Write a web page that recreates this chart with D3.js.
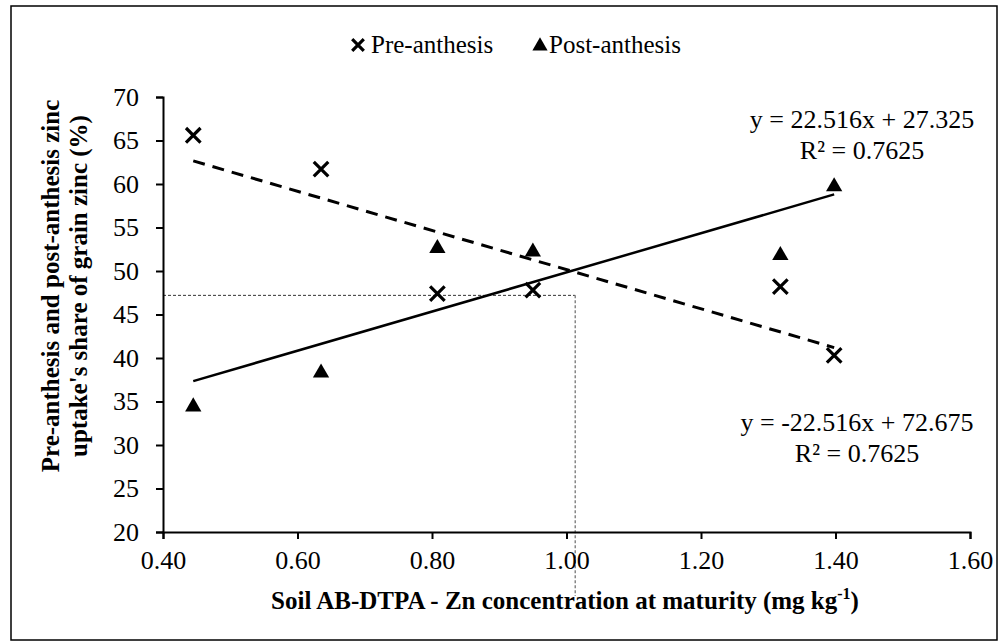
<!DOCTYPE html>
<html><head><meta charset="utf-8">
<script src="https://cdn.jsdelivr.net/npm/d3@7"></script>
<style>body{margin:0;background:#fff}svg{display:block}</style>
</head><body>
<script>
const soilZn = [0.445, 0.635, 0.808, 0.95, 1.318, 1.398];
const preAnthesis = [65.6, 61.7, 47.4, 47.8, 48.2, 40.3];
const postAnthesis = [34.4, 38.3, 52.6, 52.2, 51.8, 59.7];
const preFit = {slope: -22.516, intercept: 72.675, r2: 0.7625};
const postFit = {slope: 22.516, intercept: 27.325, r2: 0.7625};
const xTicks = [0.4, 0.6, 0.8, 1.0, 1.2, 1.4, 1.6];
const yTicks = [20, 25, 30, 35, 40, 45, 50, 55, 60, 65, 70];
const refPoint = {x: 1.013, y: 47.2};

const W = 1008, H = 643;
const svg = d3.select("body").append("svg").attr("width", W).attr("height", H)
  .style("font-family", "'Liberation Serif','Times New Roman',serif");
svg.append("rect").attr("width", W).attr("height", H).attr("fill", "#fff");
svg.append("rect").attr("x", 11).attr("y", 6).attr("width", 986).attr("height", 634)
  .attr("fill", "none").attr("stroke", "#000").attr("stroke-width", 1.5);

const x = d3.scaleLinear().domain([0.4, 1.6]).range([163, 970]);
const y = d3.scaleLinear().domain([20, 70]).range([532, 97]);

// reference lines
svg.append("line").attr("x1", x(0.4)).attr("x2", x(refPoint.x))
  .attr("y1", y(refPoint.y)).attr("y2", y(refPoint.y))
  .attr("stroke", "#333").attr("stroke-width", 1).attr("stroke-dasharray", "3,2");
svg.append("line").attr("x1", x(refPoint.x)).attr("x2", x(refPoint.x))
  .attr("y1", y(refPoint.y)).attr("y2", 596)
  .attr("stroke", "#888").attr("stroke-width", 1.5).attr("stroke-dasharray", "3,2");

// axes
const yAxis = svg.append("g").attr("transform", `translate(${x(0.4)},0)`)
  .call(d3.axisLeft(y).tickValues(yTicks).tickFormat(d3.format("d")).tickSize(7).tickPadding(17));
const xAxis = svg.append("g").attr("transform", `translate(0,${y(20)})`)
  .call(d3.axisBottom(x).tickValues(xTicks).tickFormat(d3.format(".2f")).tickSize(7).tickPadding(12));
[yAxis, xAxis].forEach(g => {
  g.select(".domain").attr("stroke", "#000").attr("stroke-width", 2);
  g.selectAll(".tick line").attr("stroke", "#000").attr("stroke-width", 2);
  g.selectAll(".tick text").attr("fill", "#000").style("font-size", "26px")
    .style("font-family", "'Liberation Serif','Times New Roman',serif");
});

// trendlines
const xMin = d3.min(soilZn), xMax = d3.max(soilZn);
const line = d3.line().x(d => x(d[0])).y(d => y(d[1]));
svg.append("path").datum([[xMin, preFit.slope * xMin + preFit.intercept], [xMax, preFit.slope * xMax + preFit.intercept]])
  .attr("d", line).attr("stroke", "#000").attr("stroke-width", 3).attr("fill", "none").attr("stroke-dasharray", "12,8");
svg.append("path").datum([[xMin, postFit.slope * xMin + postFit.intercept], [xMax, postFit.slope * xMax + postFit.intercept]])
  .attr("d", line).attr("stroke", "#000").attr("stroke-width", 2.5).attr("fill", "none");

// markers
const cross = d3.symbol().type(d3.symbolX).size(140);
const tri = d3.symbol().type(d3.symbolTriangle).size(115);
svg.selectAll(".pre").data(soilZn).join("path")
  .attr("transform", (d, i) => `translate(${x(d)},${y(preAnthesis[i])})`)
  .attr("d", cross).attr("stroke", "#000").attr("stroke-width", 3.2).attr("fill", "none");
svg.selectAll(".post").data(soilZn).join("path")
  .attr("transform", (d, i) => `translate(${x(d)},${y(postAnthesis[i])})`)
  .attr("d", tri).attr("fill", "#000");

// equations
function eq(fit) {
  const s = fit.slope < 0 ? "-" + Math.abs(fit.slope).toFixed(3) : fit.slope.toFixed(3);
  return `y = ${s}x + ${fit.intercept.toFixed(3)}`;
}
const eqs = [
  {fit: postFit, cx: 862, cy: 128},
  {fit: preFit, cx: 857, cy: 431}
];
eqs.forEach(e => {
  svg.append("text").attr("x", e.cx).attr("y", e.cy).attr("text-anchor", "middle")
    .style("font-size", "26px").text(eq(e.fit));
  svg.append("text").attr("x", e.cx).attr("y", e.cy + 31).attr("text-anchor", "middle")
    .style("font-size", "26px").text(`R² = ${e.fit.r2}`);
});

// legend
const leg = svg.append("g");
leg.append("path").attr("transform", "translate(358,45)").attr("d", d3.symbol().type(d3.symbolX).size(90))
  .attr("stroke", "#000").attr("stroke-width", 3.2);
leg.append("text").attr("x", 371).attr("y", 53).style("font-size", "25px").text("Pre-anthesis");
leg.append("path").attr("transform", "translate(540,46)").attr("d", d3.symbol().type(d3.symbolTriangle).size(100))
  .attr("fill", "#000");
leg.append("text").attr("x", 549).attr("y", 53).style("font-size", "25px").text("Post-anthesis");

// x axis title
const xt = svg.append("text").attr("x", 565).attr("y", 609).attr("text-anchor", "middle")
  .style("font-size", "25px").style("font-weight", "bold");
xt.append("tspan").text("Soil AB-DTPA - Zn concentration at maturity (mg kg");
xt.append("tspan").attr("dy", -10).style("font-size", "16px").text("-1");
xt.append("tspan").attr("dy", 10).text(")");

// y axis title
const yt = svg.append("text").attr("transform", "translate(0,286) rotate(-90)")
  .attr("text-anchor", "middle").style("font-size", "25px").style("font-weight", "bold");
yt.append("tspan").attr("x", 0).attr("y", 59).text("Pre-anthesis and post-anthesis zinc");
yt.append("tspan").attr("x", 0).attr("y", 87).text("uptake's share of grain zinc (%)");
</script>
</body></html>
